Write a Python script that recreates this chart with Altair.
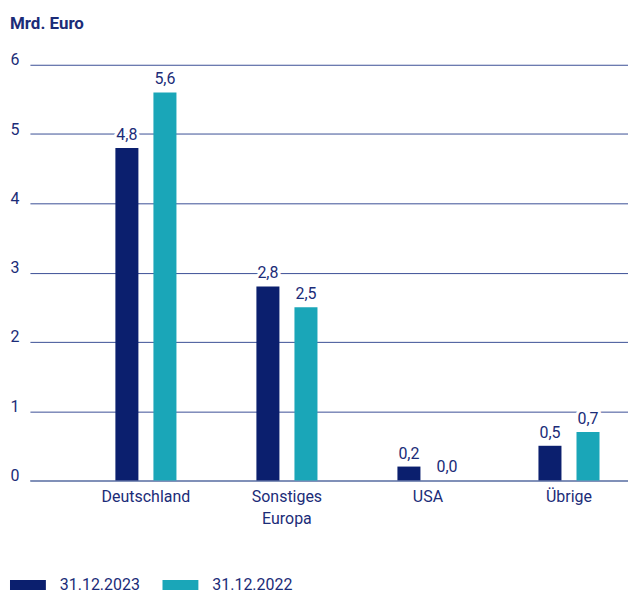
import altair as alt
import pandas as pd

categories = ["Deutschland", "Sonstiges Europa", "USA", "Übrige"]
series = ["31.12.2023", "31.12.2022"]
values_2023 = [4.8, 2.8, 0.2, 0.5]
values_2022 = [5.6, 2.5, 0.0, 0.7]
y_ticks = [0, 1, 2, 3, 4, 5, 6]

rows = []
for c, v in zip(categories, values_2023):
    rows.append({"Region": c, "Stichtag": series[0], "Wert": v})
for c, v in zip(categories, values_2022):
    rows.append({"Region": c, "Stichtag": series[1], "Wert": v})
df = pd.DataFrame(rows)
df["Label"] = df["Wert"].map(lambda v: f"{v:.1f}".replace(".", ","))

NAVY = "#0b1f6e"
TEAL = "#1aa6b8"
TEXT = "#1b2c78"
FONT = "Roboto"
FS = 16

x_enc = alt.X(
    "Region:N",
    sort=categories,
    title=None,
    scale=alt.Scale(paddingInner=0.567, paddingOuter=0.404, align=0.75),
    axis=alt.Axis(
        labelAngle=0,
        labelExpr="split(datum.label, ' ')",
        labelFont=FONT,
        labelFontSize=FS,
        labelColor=TEXT,
        labelPadding=8,
        labelLineHeight=22,
        labelBaseline="top",
        ticks=False,
        domainColor="#8090b8",
        domainWidth=2,
        grid=False,
    ),
)
xoff = alt.XOffset(
    "Stichtag:N", sort=series, scale=alt.Scale(paddingInner=0.395, paddingOuter=0)
)
y_enc = alt.Y(
    "Wert:Q",
    title=None,
    scale=alt.Scale(domain=[0, 6], nice=False),
    axis=alt.Axis(
        values=y_ticks,
        format="d",
        labelFont=FONT,
        labelFontSize=FS,
        labelColor=TEXT,
        labelAlign="left",
        labelPadding=20,
        labelOffset=-5,
        ticks=False,
        domain=False,
        grid=True,
        gridColor="#3b4f96",
        gridWidth=1,
    ),
)

base = alt.Chart(df).encode(x=x_enc, xOffset=xoff)

bars = base.mark_bar().encode(
    y=y_enc,
    color=alt.Color(
        "Stichtag:N",
        sort=series,
        scale=alt.Scale(domain=series, range=[NAVY, TEAL]),
        legend=alt.Legend(
            title=None,
            orient="none",
            legendX=-20,
            legendY=504,
            direction="horizontal",
            symbolType="M-1,-0.28L1,-0.28L1,0.28L-1,0.28Z",
            symbolSize=1296,
            symbolStrokeWidth=0,
            labelFont=FONT,
            labelFontSize=FS,
            labelColor=TEXT,
            labelOffset=14,
            columnPadding=22,
        ),
    ),
)

halo = base.mark_text(
    baseline="bottom", dy=-5, font=FONT, fontSize=FS, stroke="white",
    strokeWidth=6, color="white", strokeJoin="round",
).encode(y="Wert:Q", text="Label:N")

labels = base.mark_text(
    baseline="bottom", dy=-5, font=FONT, fontSize=FS, color=TEXT
).encode(y="Wert:Q", text="Label:N")

chart = (
    alt.layer(bars, halo, labels)
    .properties(
        width=600,
        height=417,
        padding={"left": 2, "top": 6, "right": 0, "bottom": 0},
        title=alt.TitleParams(
            "Mrd. Euro",
            anchor="start",
            frame="bounds",
            font=FONT,
            fontSize=17,
            fontWeight="bold",
            color=TEXT,
            offset=19,
        ),
    )
    .configure_view(stroke=None)
)

chart.save("out.html", embed_options={"renderer": "svg", "actions": False})
